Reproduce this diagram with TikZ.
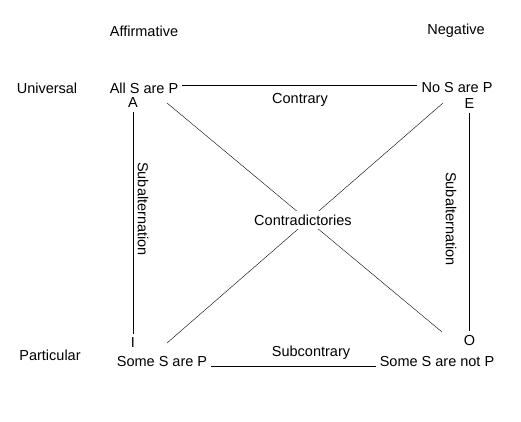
\documentclass[tikz,border=0pt]{standalone}
\usepackage{fontspec}
\setmainfont{Liberation Sans}
\usepackage{tikz}
\usetikzlibrary{positioning}

\begin{document}
\begin{tikzpicture}[
    x=1pt, y=-1pt,
    txt/.style={inner sep=4pt, font=\fontsize{14.5}{16}\selectfont},
    rel/.style={txt, fill=#1},
    rel/.default={white},
    side/.style={txt, rotate=-90}
]
\useasboundingbox (0,0) rectangle (521,421);

% headings
\node[txt] (aff) at (144,31) {Affirmative};
\node[txt] (neg) at (456,31) {Negative};
\node[txt] (univ) at (47,88) {Universal};
\node[txt] (part) at (50,355) {Particular};

% the four propositions
\node[txt] (allsp) at (144,88) {All S are P};
\node[txt] (nosp) at (457,88) {No S are P};
\node[txt] (somesp) at (162,361) {Some S are P};
\node[txt] (somesnp) at (437,361) {Some S are not P};
\node[txt] (A) at (133,103) {A};
\node[txt] (E) at (469.5,104) {E};
\node[txt] (I) at (133,343) {I};
\node[txt] (O) at (469.5,340) {O};

\coordinate (ao1) at (167,103);
\coordinate (ao2) at (442,332);
\coordinate (ei1) at (443,103);
\coordinate (ei2) at (167,343);

\draw ([yshift=3pt]allsp.east) -- ([yshift=3pt]nosp.west);
\draw (somesp.base east) -- (somesnp.base west);
\draw (A) -- (I);
\draw (E) -- (O);
\draw (ao1) -- (ao2);
\draw (ei1) -- (ei2);

% relations
\node[txt] (contrary) at (300,100) {Contrary};
\node[txt] (subcontrary) at (311,353) {Subcontrary};
\node[rel] (contra) at (303,220) {Contradictories};
\node[side] (subl) at (143,209) {Subalternation};
\node[side] (subr) at (451,219) {Subalternation};

\end{tikzpicture}
\end{document}
